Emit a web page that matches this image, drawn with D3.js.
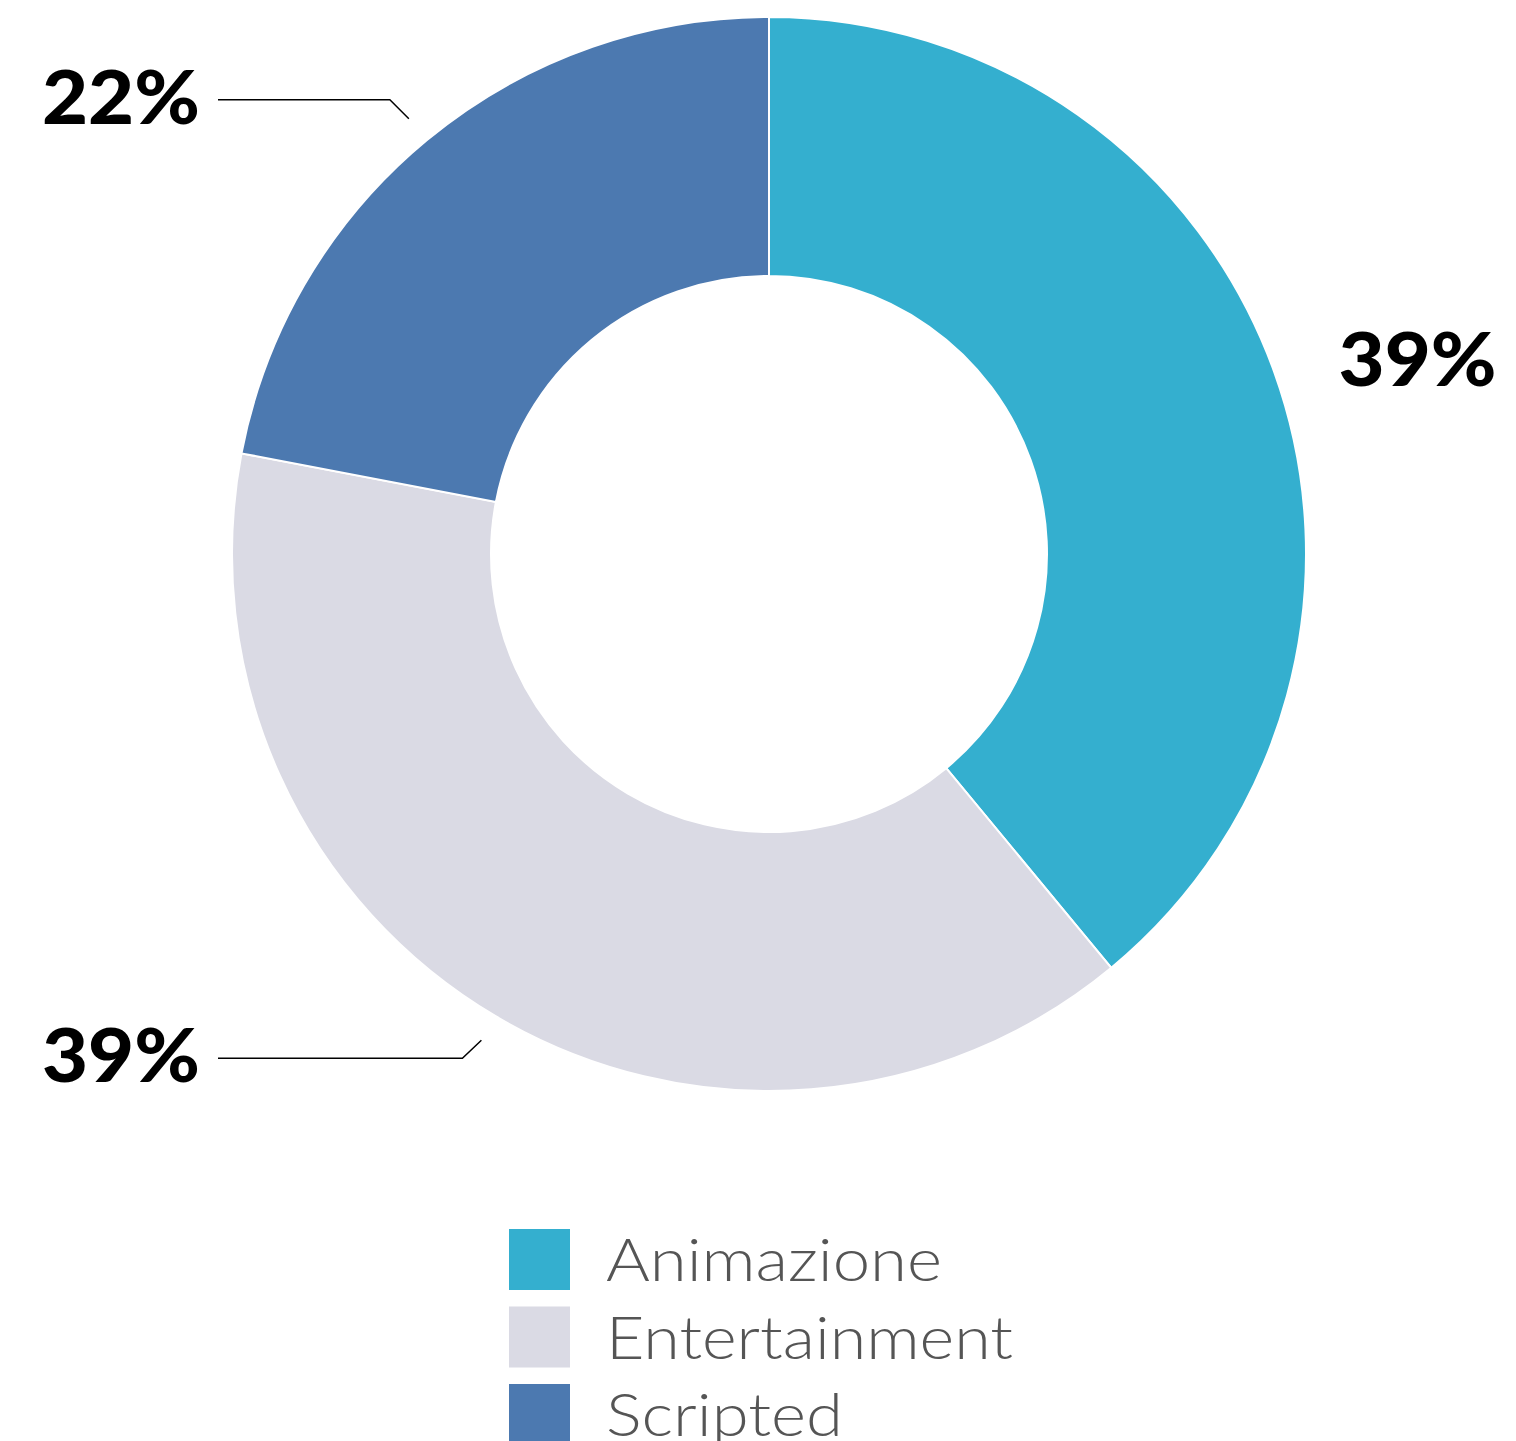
<!DOCTYPE html>
<html>
<head>
<meta charset="utf-8">
<script src="https://cdn.jsdelivr.net/npm/d3@7"></script>
<style>
  html, body { margin: 0; padding: 0; background: #fff; }
  svg { display: block; }
</style>
</head>
<body>
<script>
const categories = ["Animazione", "Entertainment", "Scripted"];
const values = [39, 39, 22];
const labels = ["39%", "39%", "22%"];
const colors = ["#34AFCF", "#DADAE4", "#4C79B0"];

const W = 1516, H = 1441;
const cx = 769, cy = 554, rOuter = 537, rInner = 278;

const svg = d3.select("body").append("svg").attr("width", W).attr("height", H);
const g = svg.append("g").attr("transform", `translate(${cx},${cy})`);

const data = categories.map((c, i) => ({ cat: c, value: values[i], label: labels[i], color: colors[i] }));
const pie = d3.pie().sort(null).value(d => d.value).startAngle(0).endAngle(2 * Math.PI);
const arcs = pie(data);
const arc = d3.arc().innerRadius(rInner).outerRadius(rOuter);

g.selectAll("path.slice").data(arcs).join("path")
  .attr("class", "slice")
  .attr("d", arc)
  .attr("fill", d => d.data.color)
  .attr("stroke", "#fff")
  .attr("stroke-width", 2);

// labels
const labelArc = d3.arc().innerRadius(565).outerRadius(565);
const labelFont = "Lato, 'DejaVu Sans', sans-serif";
arcs.forEach((a, i) => {
  const [px, py] = labelArc.centroid(a);
  const mid = (a.startAngle + a.endAngle) / 2;
  const rightSide = Math.sin(mid) > 0;
  if (rightSide) {
    g.append("text")
      .attr("x", px + 38).attr("y", py + 23)
      .attr("font-family", labelFont).attr("font-weight", 900)
      .attr("font-size", 74).attr("fill", "#000")
      .attr("textLength", 158).attr("lengthAdjust", "spacingAndGlyphs")
      .text(a.data.label);
  } else {
    const up = Math.cos(mid) > 0;
    const bx = px + 19 * (up ? -1 : -1);
    const by = py + (up ? -19 : 18);
    const lx = 218 - cx;
    g.append("path")
      .attr("d", `M${px},${py}L${bx},${by}L${lx},${by}`)
      .attr("fill", "none").attr("stroke", "#000").attr("stroke-width", 1.5);
    g.append("text")
      .attr("x", 200 - cx).attr("y", by + 24)
      .attr("text-anchor", "end")
      .attr("font-family", labelFont).attr("font-weight", 900)
      .attr("font-size", 74).attr("fill", "#000")
      .attr("textLength", 158).attr("lengthAdjust", "spacingAndGlyphs")
      .text(a.data.label);
  }
});

// legend
const legend = svg.append("g").attr("transform", "translate(509,1229)");
const legendWidths = [336, 407, 237];
const item = legend.selectAll("g").data(data).join("g")
  .attr("transform", (d, i) => `translate(0,${i * 77.5})`);
item.append("rect").attr("width", 61).attr("height", 61).attr("fill", d => d.color);
item.append("text")
  .attr("x", 97).attr("y", 52)
  .attr("font-family", "Lato, 'Open Sans', sans-serif").attr("font-weight", 300)
  .attr("font-size", 60).attr("fill", "#555")
  .attr("textLength", (d, i) => legendWidths[i]).attr("lengthAdjust", "spacingAndGlyphs")
  .text(d => d.cat);
</script>
</body>
</html>
